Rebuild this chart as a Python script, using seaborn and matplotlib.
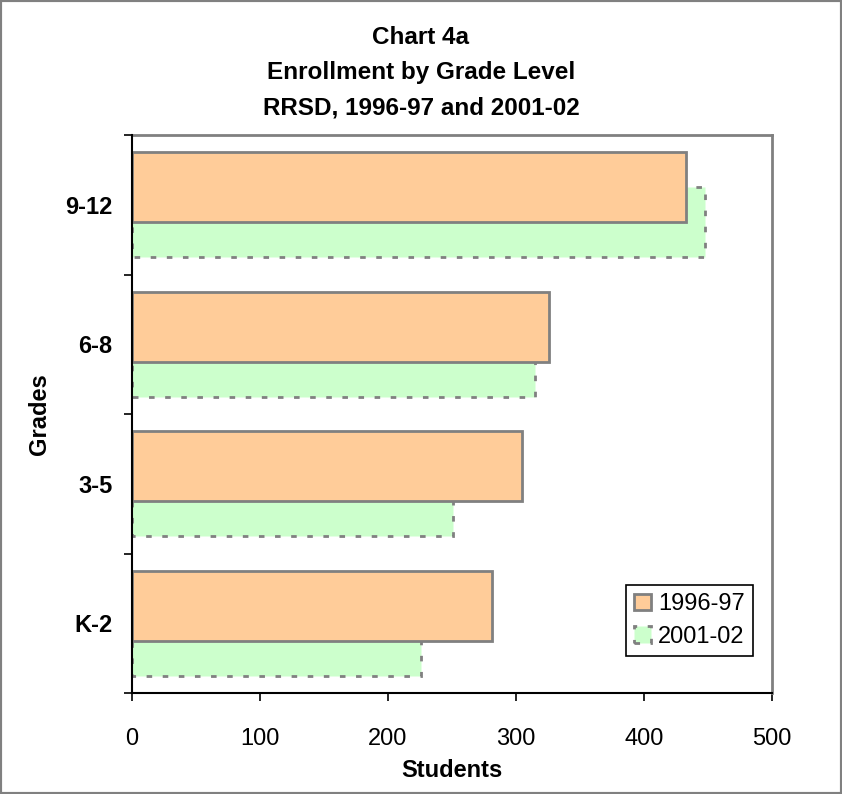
import matplotlib
matplotlib.use("Agg")
import matplotlib.pyplot as plt
import matplotlib.transforms as mtransforms
import seaborn as sns
import pandas as pd
from matplotlib.patches import Rectangle

grades = ["9-12", "6-8", "3-5", "K-2"]
years = ["1996-97", "2001-02"]
enroll_1996 = [433, 326, 305, 281]
enroll_2001 = [448, 315, 251, 226]
colors = ["#FFCC99", "#CCFFCC"]
x_ticks = [0, 100, 200, 300, 400, 500]

df96 = pd.DataFrame({"Grades": grades, "Students": enroll_1996})
df01 = pd.DataFrame({"Grades": grades, "Students": enroll_2001})

sns.set_theme(style="white")
plt.rcParams["font.family"] = ["Liberation Sans", "DejaVu Sans"]
plt.rcParams["text.color"] = "black"
plt.rcParams["axes.labelcolor"] = "black"
plt.rcParams["xtick.color"] = "black"
plt.rcParams["ytick.color"] = "black"

fig = plt.figure(figsize=(8.42, 7.94), dpi=100)
fig.patch.set_facecolor("white")
ax = fig.add_axes([132 / 842, 1 - 693 / 794, 640 / 842, 558 / 794])

edge = "#808080"
# 2001-02 drawn first (behind), shifted down; 1996-97 on top, shifted up
sns.barplot(data=df01, y="Grades", x="Students", order=grades, color=colors[1],
            width=0.5, orient="h", ax=ax, saturation=1)
sns.barplot(data=df96, y="Grades", x="Students", order=grades, color=colors[0],
            width=0.5, orient="h", ax=ax, saturation=1)

c01, c96 = ax.containers[0], ax.containers[1]
shift_dn = mtransforms.Affine2D().translate(0, 0.125) + ax.transData
shift_up = mtransforms.Affine2D().translate(0, -0.125) + ax.transData
for p in c01:
    p.set_transform(shift_dn)
    p.set_edgecolor(edge)
    p.set_linewidth(2.0)
    p.set_linestyle((0, (2.0, 3.8)))
    p.set_zorder(2)
for p in c96:
    p.set_transform(shift_up)
    p.set_edgecolor(edge)
    p.set_linewidth(2.0)
    p.set_zorder(3)

ax.set_xlim(0, 500)
ax.set_ylim(len(grades) - 0.5, -0.5)
ax.set_xticks(x_ticks)
ax.set_xticklabels([str(v) for v in x_ticks], fontsize=17)
ax.set_yticks(range(len(grades)))
ax.set_yticklabels(grades, fontsize=17, fontweight="bold")
ax.set_yticks([i - 0.5 for i in range(len(grades) + 1)], minor=True)
ax.tick_params(axis="y", which="major", length=0, pad=14, colors="black")
ax.tick_params(axis="y", which="minor", length=6, width=1.2, color="black", left=True)
ax.tick_params(axis="x", which="major", length=6, width=1.2, color="black",
               bottom=True, direction="out", pad=19)

for s in ["left", "bottom"]:
    ax.spines[s].set_color("black")
    ax.spines[s].set_linewidth(1.5)
    ax.spines[s].set_zorder(5)
for s in ["top", "right"]:
    ax.spines[s].set_color(edge)
    ax.spines[s].set_linewidth(2)

ax.set_xlabel("Students", fontsize=17, fontweight="bold")
ax.set_ylabel("Grades", fontsize=17, fontweight="bold")
ax.xaxis.set_label_coords(0.5, -0.138)
ax.xaxis.label.set_va("center")
ax.yaxis.set_label_coords(-0.145, 0.5)
ax.yaxis.label.set_va("center")

leg = ax.legend(handles=[c96, c01], labels=years,
                loc="lower left", bbox_to_anchor=(0.772, 0.066), fontsize=17,
                frameon=True, fancybox=False, framealpha=1, edgecolor="black",
                handlelength=0.7, handleheight=0.7, handletextpad=0.3,
                borderpad=0.35, labelspacing=0.45, borderaxespad=0)
leg.get_frame().set_linewidth(1.2)

title_lines = ["Chart 4a", "Enrollment by Grade Level", "RRSD, 1996-97 and 2001-02"]
for i, line in enumerate(title_lines):
    fig.text(0.5, 1 - (37 + 35.5 * i) / 794, line, ha="center", va="center",
             fontsize=17.5, fontweight="bold")

fig.add_artist(Rectangle((0, 0), 1, 1, transform=fig.transFigure, fill=False,
                         edgecolor=edge, linewidth=3))

fig.savefig("out.png", dpi=100)
